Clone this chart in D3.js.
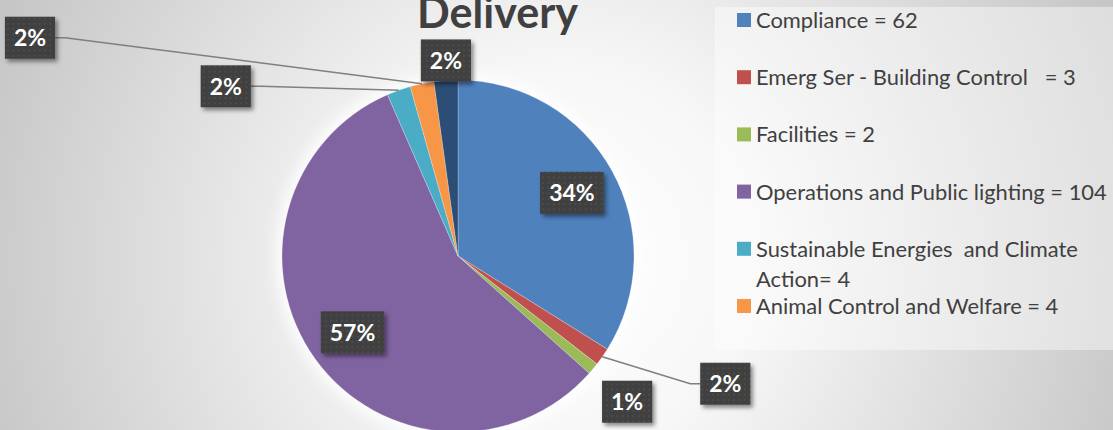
<!DOCTYPE html>
<html>
<head>
<meta charset="utf-8">
<script src="https://cdn.jsdelivr.net/npm/d3@7"></script>
<style>
  html, body { margin: 0; padding: 0; background: #fff; }
  svg { display: block; }
  text { white-space: pre; }
</style>
</head>
<body>
<svg id="chart" width="1113" height="430"></svg>
<script>
// ---- data ----
const categories = [
  "Compliance",
  "Emerg Ser - Building Control",
  "Facilities",
  "Operations and Public lighting",
  "Sustainable Energies and Climate Action",
  "Animal Control and Welfare",
  "Other"
];
const values = [62, 3, 2, 104, 4, 4, 4];
const legendLines = [
  ["Compliance = 62"],
  ["Emerg Ser - Building Control   = 3"],
  ["Facilities = 2"],
  ["Operations and Public lighting = 104"],
  ["Sustainable Energies  and Climate", "Action= 4"],
  ["Animal Control and Welfare = 4"]
];
const colors = ["#4F81BD", "#C0504D", "#9BBB59", "#8064A2", "#4BACC6", "#F79646", "#2C4D75"];
const titleText = "Delivery";

// ---- label layout (radius factor, pixel nudge, leader line) ----
const labelLayout = [
  { rf: 0.74, dx: 0, dy: 0, leader: false },
  { rf: 1.0, dx: 123, dy: 27, leader: true },
  { rf: 1.0, dx: 34, dy: 33, leader: false },
  { rf: 0.74, dx: 0, dy: 0, leader: false },
  { rf: 1.0, dx: -173, dy: -4, leader: true },
  { rf: 1.0, dx: -392, dy: -46, leader: true },
  { rf: 1.0, dx: 0, dy: -20, leader: false }
];

const W = 1113, H = 430;
const svg = d3.select("#chart");
const defs = svg.append("defs");

// background gradient
const bg = defs.append("radialGradient").attr("id", "bgGrad")
  .attr("gradientUnits", "userSpaceOnUse")
  .attr("cx", 560).attr("cy", 260).attr("r", 640);
bg.append("stop").attr("offset", "0").attr("stop-color", "#ffffff");
bg.append("stop").attr("offset", "0.3").attr("stop-color", "#f7f7f7");
bg.append("stop").attr("offset", "1").attr("stop-color", "#c2c2c2");
svg.append("rect").attr("width", W).attr("height", H).attr("fill", "url(#bgGrad)");

// dotted pattern for label boxes
const pat = defs.append("pattern").attr("id", "dots")
  .attr("patternUnits", "userSpaceOnUse").attr("width", 5.3).attr("height", 5.3);
pat.append("rect").attr("width", 5.3).attr("height", 5.3).attr("fill", "#404040");
pat.append("rect").attr("x", 2).attr("y", 2).attr("width", 1.4).attr("height", 1.4).attr("fill", "#565656");

const sh = defs.append("filter").attr("id", "shadow")
  .attr("x", "-30%").attr("y", "-30%").attr("width", "170%").attr("height", "170%");
sh.append("feDropShadow").attr("dx", 2.5).attr("dy", 3).attr("stdDeviation", 2)
  .attr("flood-color", "#000").attr("flood-opacity", 0.45);

const glow = defs.append("filter").attr("id", "glow")
  .attr("x", "-30%").attr("y", "-30%").attr("width", "160%").attr("height", "160%");
glow.append("feGaussianBlur").attr("stdDeviation", 7);

// legend box
svg.append("rect").attr("x", 715).attr("y", 7).attr("width", W - 715).attr("height", 343)
  .attr("fill", "#ffffff").attr("opacity", 0.42);

// ---- pie ----
const cx = 458, cy = 256, R = 176;
const g = svg.append("g").attr("transform", `translate(${cx},${cy})`);
g.append("circle").attr("r", R + 6).attr("fill", "#ffffff").attr("opacity", 0.9).attr("filter", "url(#glow)");

const pie = d3.pie().sort(null).value(d => d)(values);
const arc = d3.arc().innerRadius(0).outerRadius(R);
g.selectAll("path.slice").data(pie).join("path")
  .attr("class", "slice")
  .attr("d", arc)
  .attr("fill", (d, i) => colors[i])
  .attr("stroke", "#ffffff").attr("stroke-width", 0.4).attr("stroke-opacity", 0.6);

const total = d3.sum(values);
const pct = d3.format(".0%");

// title
const title = svg.append("text").text(titleText)
  .attr("x", 497.5).attr("y", 28).attr("text-anchor", "middle")
  .attr("font-family", "Lato, 'Open Sans', sans-serif").attr("font-weight", "bold")
  .attr("font-size", 40).attr("fill", "#404040");
{
  const w = title.node().getComputedTextLength();
  title.attr("font-size", 40 * 161 / w);
}

// labels
const labelFont = 23;
const labelG = svg.append("g");
pie.forEach((d, i) => {
  const L = labelLayout[i];
  const rho = R * L.rf;
  const p = d3.arc().innerRadius(rho).outerRadius(rho).centroid(d);
  const edge = d3.arc().innerRadius(R).outerRadius(R).centroid(d);
  const lx = cx + p[0] + L.dx, ly = cy + p[1] + L.dy;
  const grp = labelG.append("g");
  const t = grp.append("text").text(pct(d.data / total))
    .attr("x", lx).attr("y", ly).attr("text-anchor", "middle").attr("dy", "0.36em")
    .attr("font-family", "Lato, 'Open Sans', sans-serif").attr("font-weight", "bold")
    .attr("font-size", labelFont).attr("fill", "#ffffff");
  const tw = t.node().getComputedTextLength();
  const bw = tw + 18, bh = 42;
  if (L.leader) {
    const ex = cx + edge[0], ey = cy + edge[1];
    const side = lx < ex ? 1 : -1;
    const bx = lx + side * bw / 2;
    const pts = [[ex, ey], [bx + side * 10, ly], [bx, ly]];
    labelG.insert("path", ":first-child")
      .attr("d", d3.line()(pts)).attr("fill", "none")
      .attr("stroke", "#7f7f7f").attr("stroke-width", 1.5);
  }
  grp.insert("rect", "text")
    .attr("x", lx - bw / 2).attr("y", ly - bh / 2).attr("width", bw).attr("height", bh)
    .attr("fill", "url(#dots)").attr("filter", "url(#shadow)");
});

// ---- legend ----
const legend = svg.append("g");
const legendFontBase = 20;
const legX = 756, legY0 = 28, legStep = 57.2, wrapStep = 30;
legendLines.forEach((lines, i) => {
  const by = legY0 + i * legStep;
  legend.append("rect").attr("x", 737).attr("y", by - 15).attr("width", 14).attr("height", 14)
    .attr("fill", colors[i]);
  lines.forEach((ln, j) => {
    legend.append("text").attr("class", "leg").text(ln)
      .attr("x", legX).attr("y", by + j * wrapStep)
      .attr("font-family", "Lato, 'Open Sans', sans-serif")
      .attr("font-size", legendFontBase).attr("fill", "#404040");
  });
});
{
  const ref = legend.selectAll("text.leg").filter(function () {
    return d3.select(this).text() === "Operations and Public lighting = 104";
  });
  const w = ref.node().getComputedTextLength();
  legend.selectAll("text.leg").attr("font-size", legendFontBase * 351 / w);
}
</script>
</body>
</html>
